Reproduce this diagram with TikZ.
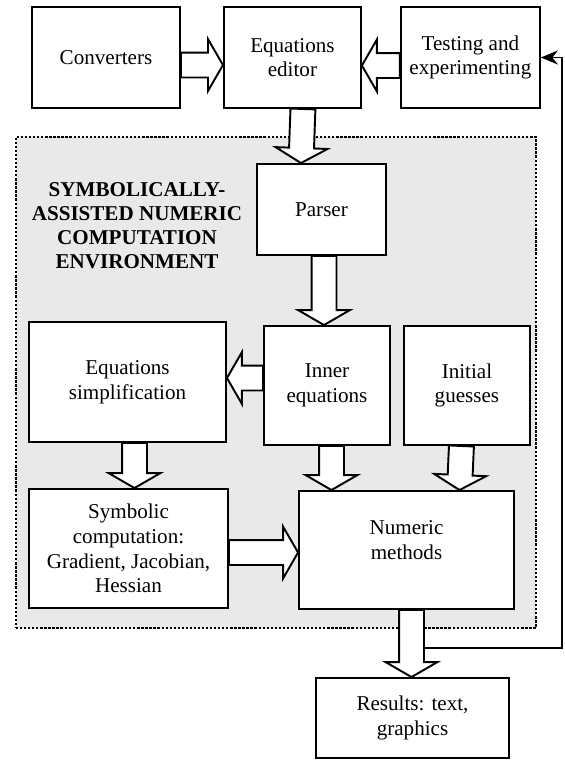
\documentclass[tikz,border=0pt]{standalone}
\usepackage{fontspec}
\setmainfont{Liberation Serif}
\usetikzlibrary{arrows.meta,positioning,shapes.arrows,calc}

% hollow block arrow from one point to another
\newcommand{\blkarrow}[2]{%
  \path let \p1=(#1), \p2=(#2),
    \n1={veclen(\x2-\x1,\y2-\y1)}, \n2={atan2(\y2-\y1,\x2-\x1)} in
    node[blk, minimum height=\n1, rotate=\n2, anchor=tail] at (\p1) {};}

\begin{document}
\begin{tikzpicture}[
  box/.style={draw, line width=1.1pt, fill=white, align=center, inner sep=2pt, font=\fontsize{12}{14}\selectfont},
  env/.style={draw, densely dotted, line width=1.3pt, fill=gray!17, minimum width=10.4cm, minimum height=9.82cm},
  blk/.style={single arrow, draw, fill=white, line width=1.1pt, inner xsep=0pt, inner ysep=0.23cm, single arrow head extend=0.27cm, single arrow tip angle=120, outer sep=0pt},
  fb/.style={line width=1.1pt, -{Stealth[length=3.4mm,width=2.8mm]}}]
\useasboundingbox (0,0) rectangle (11.3,-15.24);

% environment frame
\node[env] (env) at (5.52,-7.65) {};
\node[font=\fontsize{12}{13.6}\selectfont\bfseries, align=center] (title) at (2.74,-4.52) {SYMBOLICALLY-\\ASSISTED NUMERIC\\COMPUTATION\\ENVIRONMENT};

% top row
\node[box, minimum width=2.96cm, minimum height=2.02cm] (cv) at (2.12,-1.15) {Converters};
\node[box, minimum width=2.74cm, minimum height=2.02cm, right=0.84cm of cv] (ed) {Equations\\editor};
\node[box, minimum width=2.78cm, minimum height=2.02cm, right=0.76cm of ed] (te) {Testing and\\experimenting};

% inside the environment
\node[box, minimum width=2.58cm, minimum height=1.82cm] (pa) at (6.43,-4.19) {Parser};
\node[box, minimum width=2.52cm, minimum height=2.38cm] (ie) at (6.54,-7.71) {Inner\\equations};
\node[box, minimum width=2.52cm, minimum height=2.38cm, right=0.24cm of ie] (ig) {Initial\\guesses};
\node[box, minimum width=3.94cm, minimum height=2.40cm] (es) at (2.55,-7.64) {Equations\\simplification};
\node[box, minimum width=3.98cm, minimum height=2.38cm] (sc) at (2.57,-10.97) {Symbolic\\computation:\\Gradient, Jacobian,\\Hessian};
\node[box, minimum width=4.30cm, minimum height=2.36cm, text depth=0.4cm] (nm) at (8.13,-11.0) {Numeric\\methods};

% output
\node[box, minimum width=3.86cm, minimum height=1.60cm] (rs) at (8.25,-14.36) {Results: text,\\graphics};

% feedback to testing
\coordinate (fbstart) at ($(nm.south)+(0.34,-0.76)$);
\draw[fb] (fbstart) -- ++(2.77,0) |- (te.east);

\blkarrow{$(cv.east)+(0,-0.15)$}{$(ed.west)+(0,-0.15)$}
\blkarrow{$(te.west)+(0,-0.16)$}{$(ed.east)+(0,-0.16)$}
\blkarrow{$(ed.south)+(0.21,0)$}{$(pa.north)+(-0.41,0)$}
\blkarrow{$(pa.south)+(0.05,0)$}{$(ie.north)+(-0.06,0)$}
\blkarrow{$(ie.west)+(0,0.15)$}{$(es.east)+(0,0.08)$}
\blkarrow{$(es.south)+(0.14,0)$}{$(sc.north)+(0.12,0)$}
\blkarrow{$(ie.south)+(0.09,0)$}{$(nm.north)+(-1.50,0)$}
\blkarrow{$(ig.south)+(-0.11,0)$}{$(nm.north)+(1.06,0)$}
\blkarrow{$(sc.east)+(0,-0.08)$}{$(nm.west)+(0,-0.05)$}
\blkarrow{$(nm.south)+(0.10,0)$}{$(rs.north)+(-0.02,0)$}
\end{tikzpicture}
\end{document}
